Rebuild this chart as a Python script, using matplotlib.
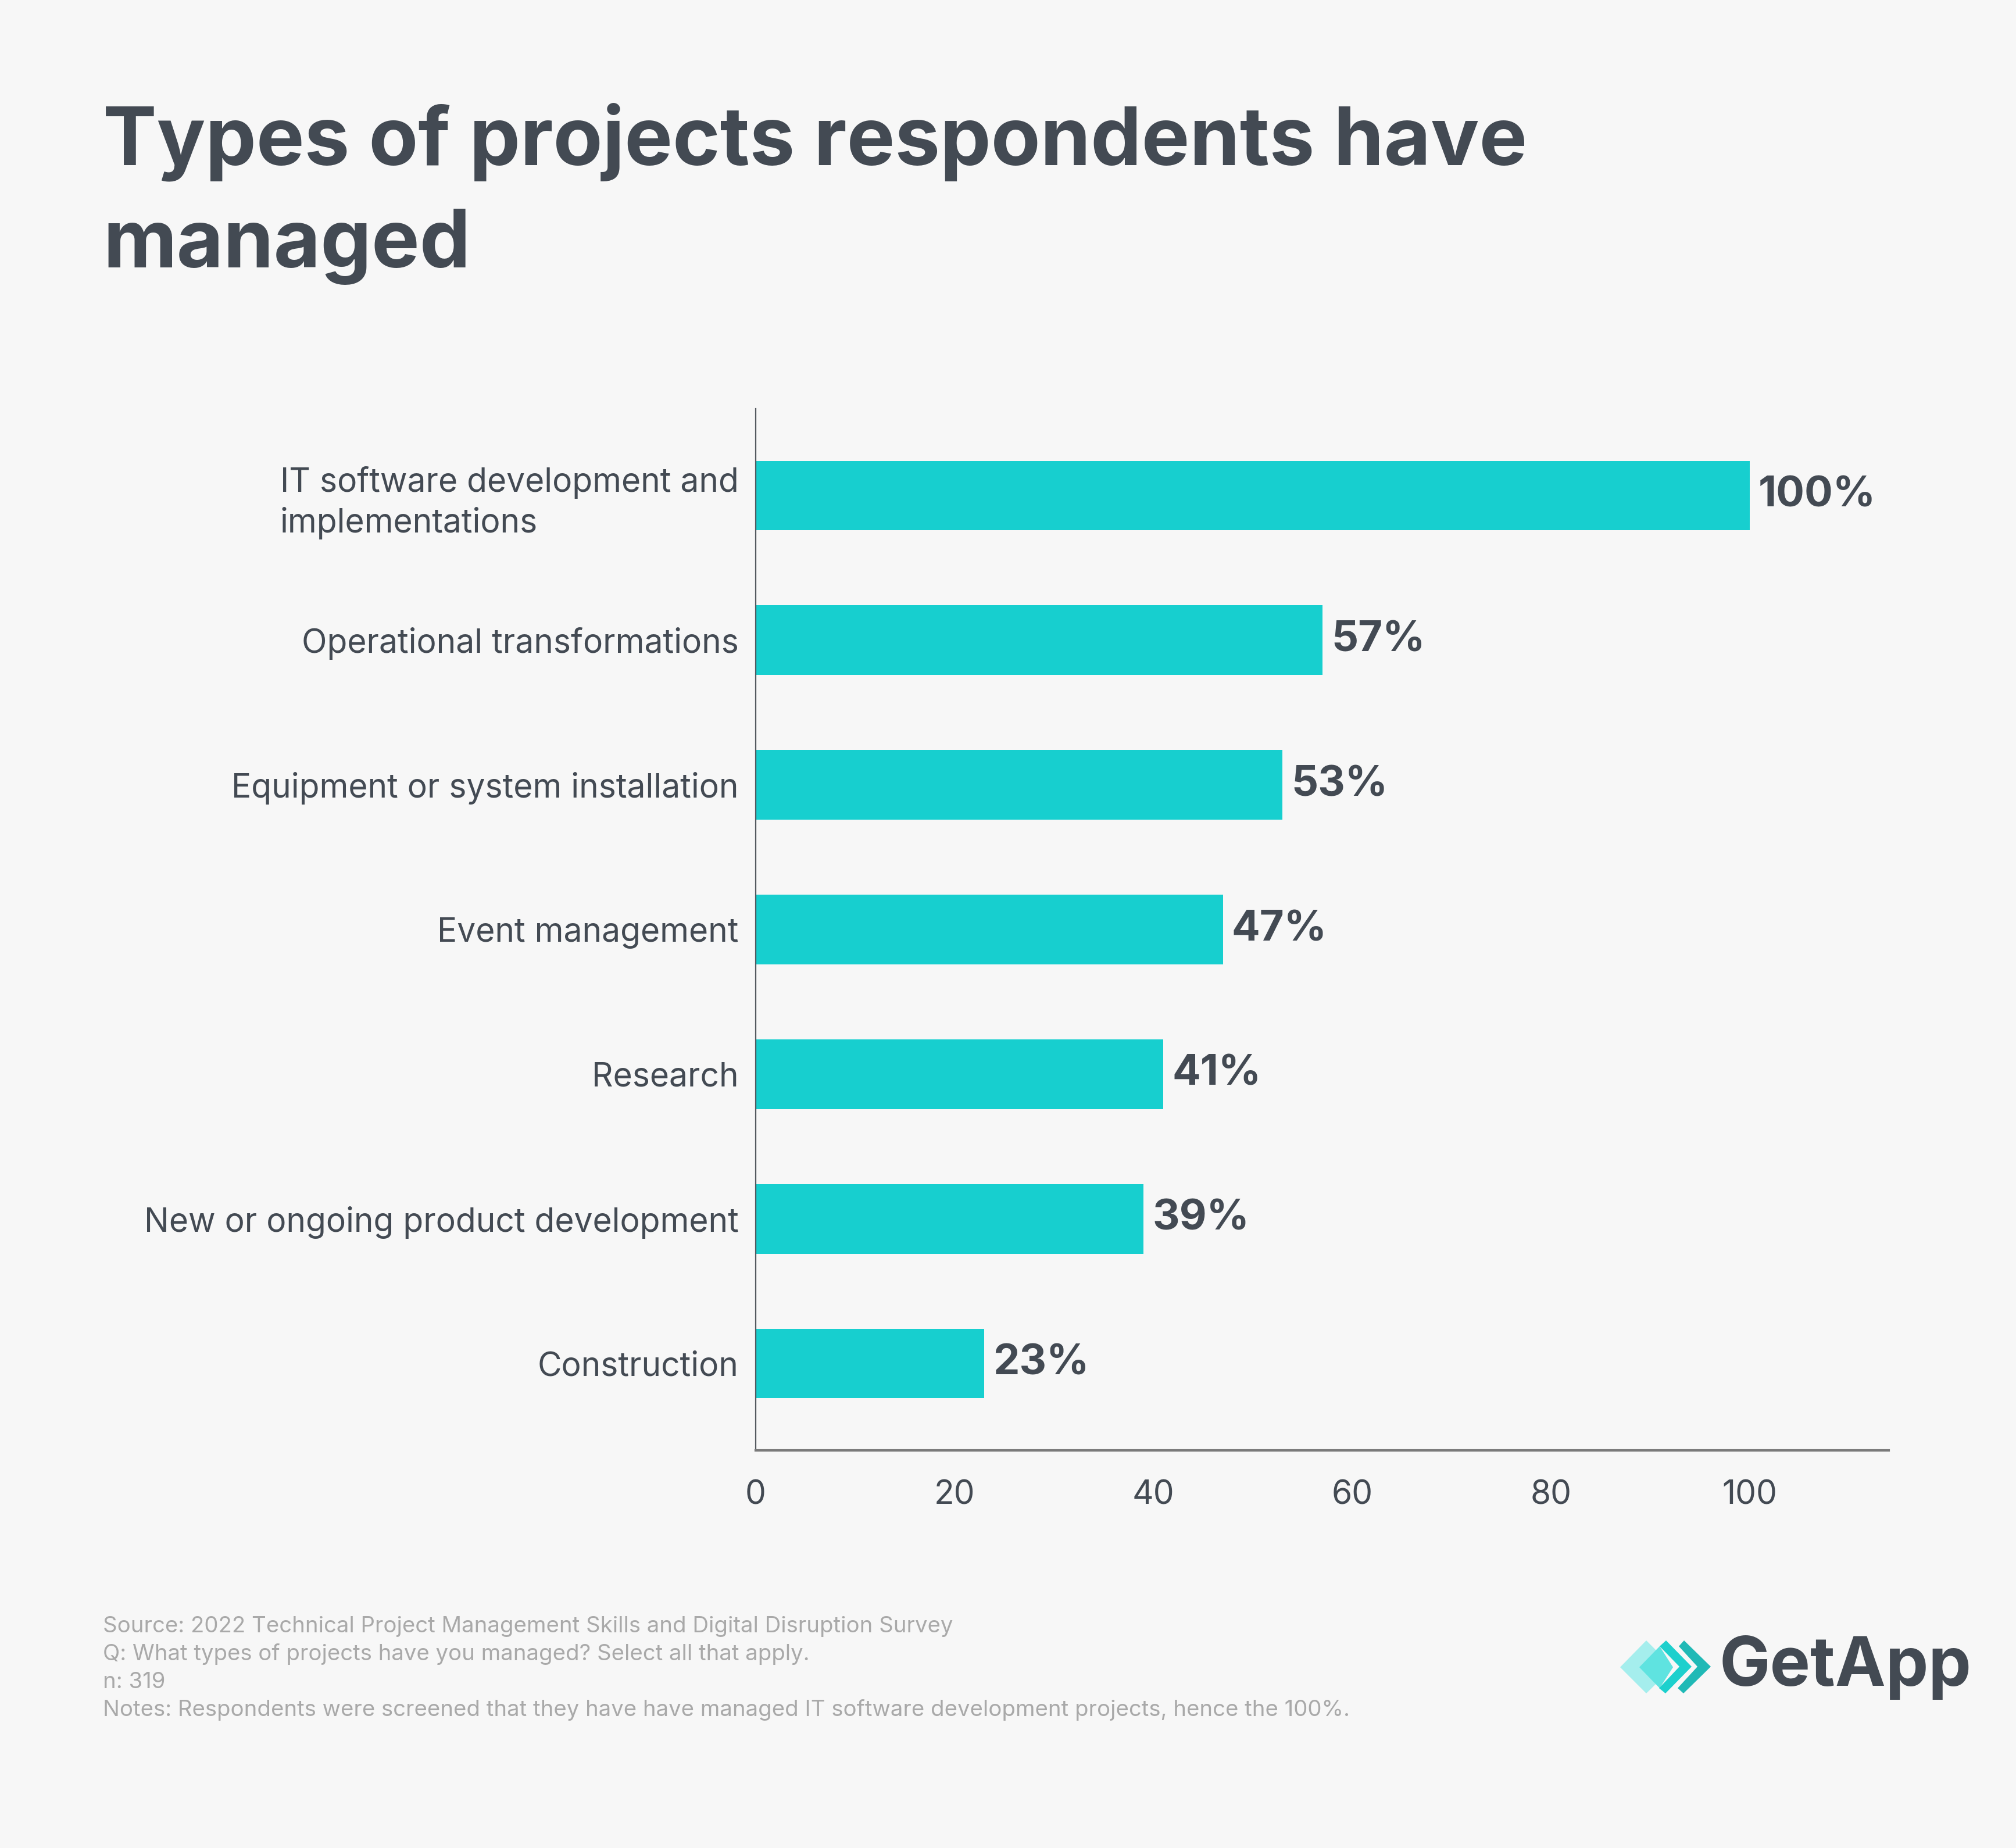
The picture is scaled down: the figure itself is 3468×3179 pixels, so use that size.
import matplotlib
matplotlib.use("Agg")
import matplotlib.pyplot as plt
from matplotlib.patches import Polygon

# data
categories = [
    "IT software development and\nimplementations",
    "Operational transformations",
    "Equipment or system installation",
    "Event management",
    "Research",
    "New or ongoing product development",
    "Construction",
]
values = [100, 57, 53, 47, 41, 39, 23]
xticks = [0, 20, 40, 60, 80, 100]

footer_lines = [
    "Source: 2022 Technical Project Management Skills and Digital Disruption Survey",
    "Q: What types of projects have you managed? Select all that apply.",
    "n: 319",
    "Notes: Respondents were screened that they have have managed IT software development projects, hence the 100%.",
]

BG = "#f7f7f7"
BAR = "#17cfcf"
DARK = "#434a53"
GREY = "#a9a9a9"

plt.rcParams["font.family"] = ["Inter", "DejaVu Sans"]

W, H = 3468, 3179
fig = plt.figure(figsize=(W / 100, H / 100), dpi=100, facecolor=BG)
ax = fig.add_axes([1300 / W, 1 - 2495 / H, (3249 - 1300) / W, (2495 - 703) / H])
ax.set_facecolor(BG)

ypos = list(range(len(categories)))
ax.barh(ypos, values, height=0.48, color=BAR)
ax.set_ylim(len(categories) - 0.4, -0.6)
ax.set_xlim(0, 114)

for y, v in zip(ypos, values):
    ax.text(v + 0.9, y, f"{v}%", va="center", ha="left", fontsize=52,
            fontweight="bold", color=DARK)

ax.set_yticks(ypos)
ax.set_yticklabels(categories, fontsize=41, color=DARK, linespacing=1.3)
ax.set_xticks(xticks)
ax.set_xticklabels([str(t) for t in xticks], fontsize=41, color=DARK)
ax.tick_params(axis="both", length=0)
ax.tick_params(axis="y", pad=21)
ax.tick_params(axis="x", pad=36)
for lab in ax.get_yticklabels():
    lab.set_horizontalalignment("right")
    lab.set_multialignment("left")

for s in ["top", "right"]:
    ax.spines[s].set_visible(False)
ax.spines["left"].set_color("#555a60")
ax.spines["left"].set_linewidth(1.6)
ax.spines["bottom"].set_color("#7a7a7a")
ax.spines["bottom"].set_linewidth(3)

# title
fig.text(177 / W, 1 - 283 / H, "Types of projects respondents have", fontsize=100,
         fontweight="bold", color=DARK, va="baseline", ha="left")
fig.text(177 / W, 1 - 460 / H, "managed", fontsize=100,
         fontweight="bold", color=DARK, va="baseline", ha="left")

# footer
for i, line in enumerate(footer_lines):
    fig.text(177 / W, 1 - (2808 + i * 48) / H, line, fontsize=27.6, color=GREY,
             va="baseline", ha="left")

# logo
def px(pts):
    return [(x / W, 1 - y / H) for x, y in pts]

diamond = px([(2787, 2868), (2832, 2822), (2878, 2868), (2832, 2913)])
inner = px([(2820, 2868), (2855, 2832), (2878, 2868), (2855, 2904)])
chev2 = px([(2866, 2822), (2910, 2867), (2865, 2913), (2854, 2904), (2889, 2867), (2855, 2832)])
chev3 = px([(2897, 2822), (2943, 2867), (2896, 2913), (2886, 2904), (2920, 2867), (2888, 2832)])
for pts, c in [(diamond, "#a5eeed"), (inner, "#5fe3e0"), (chev2, "#1dd0cd"), (chev3, "#20b9b6")]:
    fig.patches.append(Polygon(pts, closed=True, transform=fig.transFigure,
                               facecolor=c, edgecolor="none"))
fig.text(2958 / W, 1 - 2868 / H, "GetApp", fontsize=84, fontweight="bold",
         color=DARK, va="center", ha="left")

fig.savefig("out.png", dpi=100, facecolor=BG)
